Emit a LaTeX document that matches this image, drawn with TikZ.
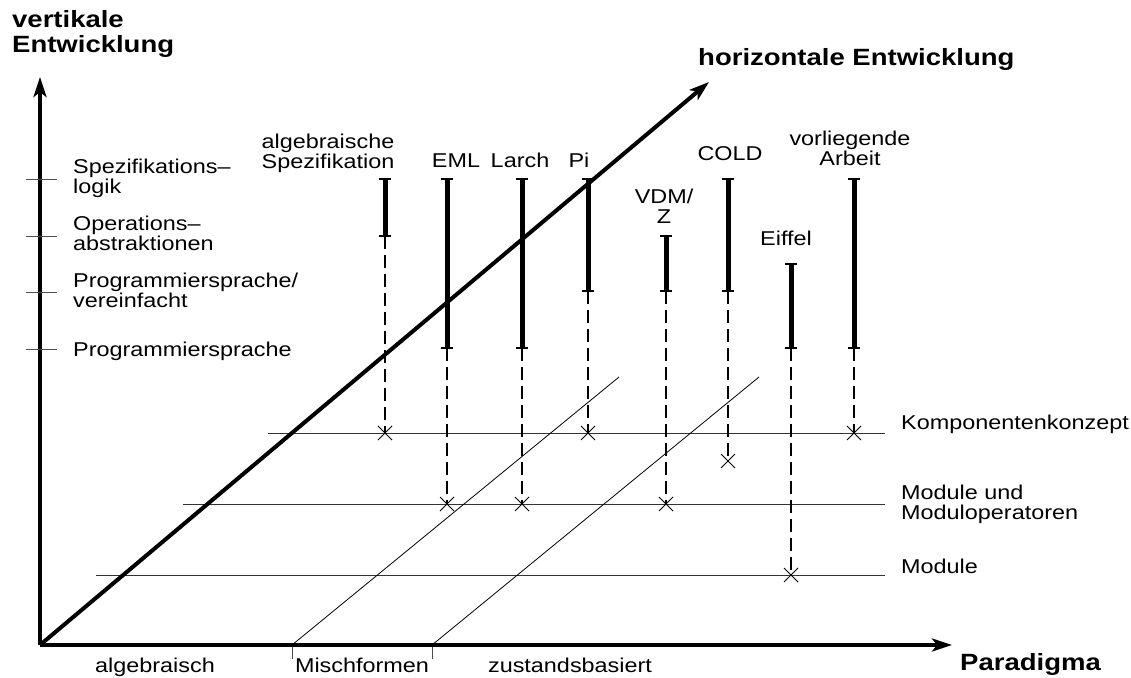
\documentclass[tikz,border=0pt]{standalone}
\usepackage{fontspec}
\setmainfont{Liberation Sans}[FakeStretch=1.17]
\usetikzlibrary{arrows.meta}
\begin{document}
\begin{tikzpicture}[x=1pt,y=-1pt,
  lbl/.style={font=\fontsize{20}{20.5}\selectfont, inner sep=0pt},
  blbl/.style={font=\bfseries\fontsize{23.5}{25}\selectfont, inner sep=0pt},
  axis/.style={line width=4pt, -{Stealth[length=20pt,width=13pt,inset=5pt]}},
  bar/.style={line width=5pt},
  barcap/.style={line width=2.4pt},
  lvl/.style={line width=1pt, black!80},
  thin/.style={line width=0.8pt},
  guide/.style={dash pattern=on 13pt off 6pt, line width=1.8pt},
  cross/.style={line width=1pt},
  ytick/.style={line width=1pt, black!70}
  ]
\path[use as bounding box] (0,0) rectangle (1131,677);

% axes
\coordinate (O) at (40,645);
\coordinate (ytip) at (40,77);
\coordinate (xtip) at (952,645);
\coordinate (dtip) at (709,82);

% level lines
\coordinate (komp-l) at (268,433); \coordinate (komp-r) at (885,433);
\coordinate (modu-l) at (183,504); \coordinate (modu-r) at (885,504);
\coordinate (mod-l) at (96,575);  \coordinate (mod-r) at (885,575);
\draw[lvl] (komp-l) -- (komp-r);
\draw[lvl] (modu-l) -- (modu-r);
\draw[lvl] (mod-l) -- (mod-r);

% thin diagonals
\coordinate (m1) at (292,645); \coordinate (m1t) at (619,377); \coordinate (m1b) at (292,659);
\coordinate (m2) at (432,645); \coordinate (m2t) at (759,377); \coordinate (m2b) at (432,659);
\draw[thin] (m1) -- (m1t);
\draw[thin] (m2) -- (m2t);
\draw[ytick] (m1) -- (m1b);
\draw[ytick] (m2) -- (m2b);

% axes
\draw[axis] (O) -- (ytip);
\draw[axis] (O) -- (xtip);
\draw[axis] (O) -- (dtip);

% y ticks
\foreach \n/\y in {t1/179,t2/236,t3/292,t4/349}{
  \coordinate (\n-a) at (26,\y); \coordinate (\n-b) at (57,\y);
  \draw[ytick] (\n-a) -- (\n-b);
}

% bars: name / x / top / bottom / cross y
\foreach \n/\x/\t/\b/\c in {alg/385/179/236/433, eml/447/179/348/504, larch/522/179/348/504,
    pi/588/179/291/433, vdm/666/236/291/504, cold/728/179/291/461, eiffel/791/264/348/575,
    arb/854/179/348/433}{
  \coordinate (\n-t) at (\x,\t);
  \coordinate (\n-b) at (\x,\b);
  \coordinate (\n-x) at (\x,\c);
  \draw[guide] (\n-b) -- (\n-x);
  \draw[bar] (\n-t) -- (\n-b);
  \draw[barcap] ([xshift=-6pt]\n-t) -- ([xshift=6pt]\n-t);
  \draw[barcap] ([xshift=-6pt]\n-b) -- ([xshift=6pt]\n-b);
  \draw[cross] ([shift={(-7pt,-7pt)}]\n-x) -- ([shift={(7pt,7pt)}]\n-x);
  \draw[cross] ([shift={(-7pt,7pt)}]\n-x) -- ([shift={(7pt,-7pt)}]\n-x);
}

% axis labels
\node[blbl, anchor=north west, align=left] (vert) at (12,10) {vertikale\\Entwicklung};
\node[blbl, anchor=base west] (hori) at (698,66) {horizontale Entwicklung};
\node[blbl, anchor=base west] (para) at (960,670) {Paradigma};

% y levels
\node[lbl, anchor=north west, align=left] (spez) at (73,158.5) {Spezifikations–\\logik};
\node[lbl, anchor=north west, align=left] (oper) at (73,215.5) {Operations–\\abstraktionen};
\node[lbl, anchor=north west, align=left] (progv) at (73,272.5) {Programmiersprache/\\vereinfacht};
\node[lbl, anchor=base west] (prog) at (73,356) {Programmiersprache};

% bar labels
\node[lbl, anchor=north, align=center] (algl) at (328,133.5) {algebraische\\Spezifikation};
\node[lbl, anchor=base] (emll) at (456,167) {EML};
\node[lbl, anchor=base] (larchl) at (520,167) {Larch};
\node[lbl, anchor=base] (pil) at (579,167) {Pi};
\node[lbl, anchor=north, align=center] (vdml) at (664,188.5) {VDM/\\Z};
\node[lbl, anchor=base] (coldl) at (730,160) {COLD};
\node[lbl, anchor=base] (eiffell) at (786,245) {Eiffel};
\node[lbl, anchor=north, align=center] (arbl) at (850,130.5) {vorliegende\\Arbeit};

% level labels
\node[lbl, anchor=base west] (kompl) at (901,429) {Komponentenkonzept};
\node[lbl, anchor=north west, align=left] (modul) at (901,484.5) {Module und\\Moduloperatoren};
\node[lbl, anchor=base west] (modl) at (901,573) {Module};

% paradigm labels
\node[lbl, anchor=base] (algx) at (155,672) {algebraisch};
\node[lbl, anchor=base] (misch) at (362,672) {Mischformen};
\node[lbl, anchor=base] (zust) at (570,672) {zustandsbasiert};
\end{tikzpicture}
\end{document}
